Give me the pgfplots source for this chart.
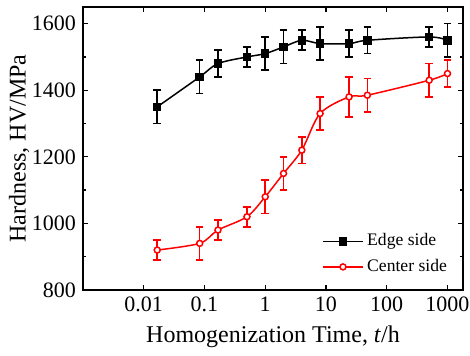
\documentclass[border=0pt]{standalone}
\usepackage{fontspec}
\setmainfont{Liberation Serif}
\usepackage{pgfplots}
\usepackage{pgfplotstable}
\pgfplotsset{compat=1.18}
\pgfplotstableread{
t h e
0.01667 1350 50
0.08333 1440 50
0.16667 1480 40
0.5 1500 30
1 1510 50
2 1530 50
4 1550 30
8 1540 50
24 1540 40
48 1550 40
500 1560 30
1000 1550 50
}\edge
\pgfplotstableread{
t h e
0.01667 920 30
0.08333 940 50
0.16667 980 30
0.5 1020 30
1 1080 50
2 1150 50
4 1220 40
8 1330 50
24 1380 60
48 1385 50
500 1430 50
1000 1450 40
}\center
\begin{document}
\begin{tikzpicture}
\begin{axis}[
  scale only axis, width=190pt, height=141.5pt,
  xmode=log, log basis x=10,
  xmin=0.001, xmax=1800, ymin=800, ymax=1650,
  xtick={0.001,0.01,0.1,1,10,100,1000},
  xticklabels={,0.01,0.1,1,10,100,1000},
  ytick={800,1000,1200,1400,1600},
  minor ytick={900,1100,1300,1500},
  tick pos=both, tick align=inside,
  major tick length=2.5pt, minor tick length=1.5pt,
  every tick/.style={black, line width=0.6pt},
  axis line style={line width=0.7pt},
  /pgf/number format/assume math mode=true,
  yticklabel style={/pgf/number format/1000 sep={}},
  ticklabel style={font=\fontsize{11}{13}\selectfont},
  label style={font=\fontsize{12}{14}\selectfont},
  xlabel={Homogenization Time, \textit{t}/h},
  ylabel={Hardness, HV/MPa},
  ylabel style={at={(rel axis cs:-0.168,0.5)}, anchor=center},
  legend style={at={(0.985,0.025)}, anchor=south east, draw=none, fill=none,
    font=\fontsize{8.8}{10.5}\selectfont, row sep=1.2pt},
  legend cell align=left,
  legend image code/.code={\draw[mark repeat=2,mark phase=2] plot coordinates {(0pt,0pt)(9.75pt,0pt)(19.5pt,0pt)};},
]
\addplot[black, line width=0.75pt, smooth, mark=square*, mark size=1.75pt,
  mark options={solid},
  error bars/.cd, y dir=both, y explicit,
  error bar style={line width=0.8pt},
  error mark options={rotate=90, mark size=1.9pt, line width=0.8pt}]
  table[x=t, y=h, y error=e] {\edge};
\addlegendentry{Edge side}
\addplot[red, line width=0.75pt, smooth, mark=*, mark size=1.5pt,
  mark options={solid, fill=white},
  error bars/.cd, y dir=both, y explicit,
  error bar style={line width=0.8pt},
  error mark options={rotate=90, mark size=1.9pt, line width=0.8pt}]
  table[x=t, y=h, y error=e] {\center};
\addlegendentry{Center side}
\coordinate (SW) at (rel axis cs:0,0);
\coordinate (NE) at (rel axis cs:1,1);
\end{axis}
\pgfresetboundingbox
\path ([xshift=-41.5pt,yshift=-33pt]SW) rectangle ([xshift=3.5pt,yshift=3.5pt]NE);
\end{tikzpicture}
\end{document}
